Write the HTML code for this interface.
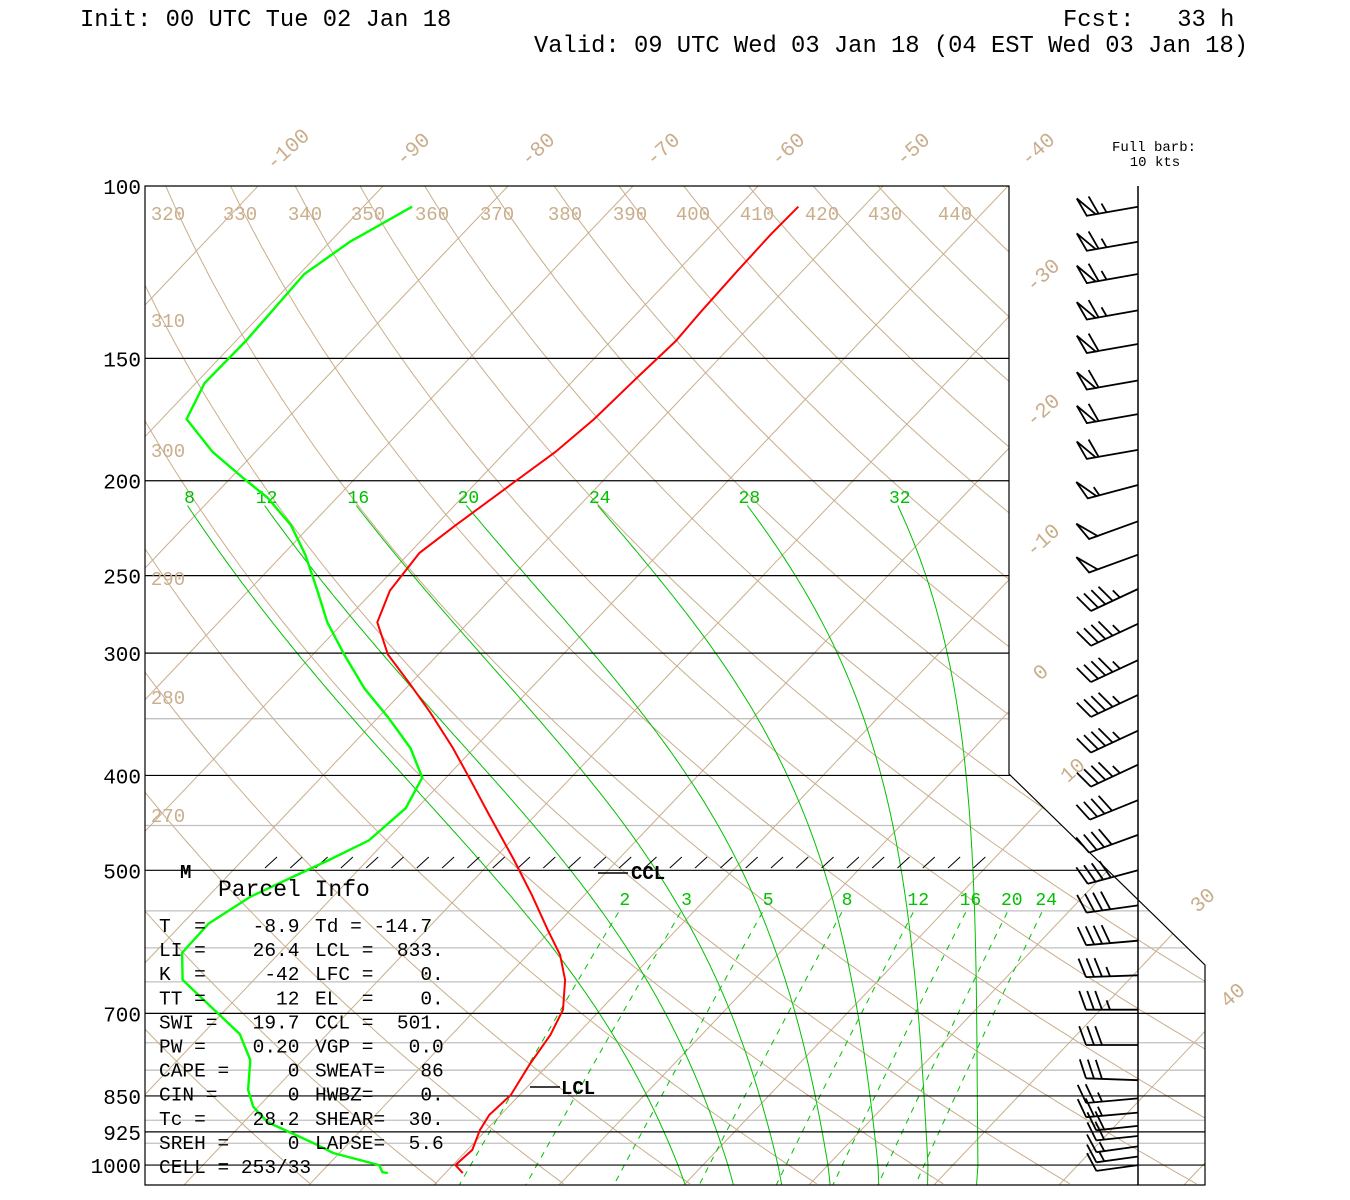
<!DOCTYPE html>
<html><head><meta charset="utf-8"><title>Skew-T</title>
<style>html,body{margin:0;padding:0;background:#fff;}svg{display:block;}
text{font-family:"Liberation Mono",monospace;}</style></head>
<body>
<svg id="chart" width="1350" height="1200" viewBox="0 0 1350 1200" xmlns="http://www.w3.org/2000/svg">
<rect width="1350" height="1200" fill="#fff"/>
<defs><clipPath id="clip"><polygon points="145,186 1009,186 1009,774 1205,965 1205,1185 145,1185"/></clipPath></defs>
<text x="80" y="26" font-size="23.8">Init: 00 UTC Tue 02 Jan 18</text>
<text x="1063" y="26" font-size="23.8" xml:space="preserve">Fcst:   33 h</text>
<text x="534" y="52" font-size="23.8">Valid: 09 UTC Wed 03 Jan 18 (04 EST Wed 03 Jan 18)</text>
<text x="1154" y="151" font-size="14" text-anchor="middle" font-family="Liberation Serif">Full barb:</text>
<text x="1155" y="166" font-size="14" text-anchor="middle" font-family="Liberation Serif">10 kts</text>
<g id="bg" clip-path="url(#clip)"></g>
<g id="frame"></g>
<g id="labels"></g>
<g id="profiles"></g>
<g id="winds"></g>
<g id="info"></g>
</svg>
<script>
const tempP=[105,112,122,135,144,156,173,187,202,222,237,259,279,301,322,345,375,404,439,488,530,575,610,647,694,736,790,848,889,921,965,1000,1019];
const tempT=[-55.2,-55.3,-55.2,-55.0,-54.8,-55.1,-55.4,-56.0,-57.1,-58.4,-59.2,-58.7,-57.3,-54.0,-50.1,-46.2,-41.7,-37.9,-33.7,-28.3,-24.2,-20.3,-17.4,-15.1,-13.0,-12.1,-11.5,-10.7,-10.9,-10.5,-9.6,-9.8,-8.6];
const dewP=[105,114,123,144,159,173,187,199,208,222,238,259,279,301,326,349,375,402,432,466,488,532,567,607,647,735,781,838,872,904,950,972,1000,1017,1019];
const dewT=[-86.1,-88.4,-89.6,-89.2,-89.3,-88.0,-83.4,-78.9,-75.6,-71.6,-68.2,-64.5,-61.3,-57.5,-53.3,-49.2,-45.1,-41.9,-40.9,-41.4,-43.1,-46.6,-47.9,-47.8,-45.7,-37.0,-34.2,-32.1,-30.4,-28.1,-22.8,-20.5,-15.9,-15.1,-14.6];
const windP=[105,114,123,134,145,158,171,186,202,220,238,258,280,305,331,360,390,424,460,500,543,590,640,694,754,819,855,884,912,934,957,980,1000];
const windSpd=[65,65,65,65,60,60,60,60,55,50,50,45,45,45,45,45,45,40,40,40,40,40,35,35,30,30,25,25,20,20,15,15,10];
const windDir=[260,260,260,260,260,260,260,260,255,250,250,245,245,245,245,245,245,248,250,255,262,265,268,270,270,272,265,265,264,264,262,262,262];
const blackLevels=[150,200,250,300,400,500,700,850,925,1000];
const grayLevels=[350,450,550,600,650,750,800,900,950];
const pressLabels=[100,150,200,250,300,400,500,700,850,925,1000];
const isotherms=[-150,-140,-130,-120,-110,-100,-90,-80,-70,-60,-50,-40,-30,-20,-10,0,10,20,30,40,50];
const thetas=[250,260,270,280,290,300,310,320,330,340,350,360,370,380,390,400,410,420,430,440,450,460];
const thetaW=[8,12,16,20,24,28,32];
const mixRatios=[2,3,5,8,12,16,20,24];
const topIsoLabels=[-100,-90,-80,-70,-60,-50,-40];

const NS="http://www.w3.org/2000/svg";
const TAN="#c9ae8c";
function yP(p){return 186+425.2*Math.log(p/100);}
function xT(T,p){return 578+12.5*T+0.95*(1165-yP(p));}
function mk(tag,parent,attrs){const e=document.createElementNS(NS,tag);for(const k in attrs)e.setAttribute(k,attrs[k]);parent.appendChild(e);return e;}
function pathFrom(pts){return pts.map((q,i)=>(i?'L':'M')+q[0].toFixed(1)+','+q[1].toFixed(1)).join('');}
const bg=document.getElementById('bg'),frame=document.getElementById('frame'),labels=document.getElementById('labels'),prof=document.getElementById('profiles'),winds=document.getElementById('winds'),info=document.getElementById('info');

grayLevels.forEach(p=>{const l=mk('line',bg,{x1:145,x2:1210,y1:yP(p),y2:yP(p),stroke:'#c0c0c0','stroke-width':1.3});

});
isotherms.forEach(T=>{const l=mk('line',bg,{x1:xT(T,1050),y1:yP(1050),x2:xT(T,95),y2:yP(95),stroke:TAN,'stroke-width':1});

});
thetas.forEach(th=>{const pts=[];for(let p=95;p<=1050;p+=10){pts.push([xT(th*Math.pow(p/1000,0.2857)-273.15,p),yP(p)]);}
const e=mk('path',bg,{d:pathFrom(pts),fill:'none',stroke:TAN,'stroke-width':1});

});
function dTdp(T,p){const Tc=T-273.15;const es=6.112*Math.exp(17.67*Tc/(Tc+243.5));const rs=0.622*es/(p-es);
return (287*T+2.5e6*rs)/(p*(1004+2.5e6*2.5e6*rs*0.622/(287*T*T)));}
function moist(thw){const up=[];let T=thw+273.15;for(let p=1000;p>=212;p-=2){up.push([p,T-0.07*thw*(1000-p)/790]);T-=dTdp(T,p)*2;}
const dn=[];T=thw+273.15;for(let p=1000;p<=1050;p+=2){dn.push([p,T]);T+=dTdp(T,p)*2;}
return dn.reverse().concat(up.slice(1));}
thetaW.forEach(w=>{const m=moist(w);const pts=m.map(a=>[xT(a[1]-273.15,a[0]),yP(a[0])]);
const e=mk('path',bg,{d:pathFrom(pts),fill:'none',stroke:'#00c000','stroke-width':1});


const top=m[m.length-1];
const t=mk('text',labels,{x:xT(top[1]-273.15,top[0])+2,y:503,'font-size':18,fill:'#00c000','text-anchor':'middle'});t.textContent=w;

});
function tdOf(w,p){const e=w*p/(622+w);const l=Math.log(e/6.112);return 243.5*l/(17.67-l);}
mixRatios.forEach(w=>{const pts=[];for(let p=552;p<=1050;p+=6)pts.push([xT(tdOf(w,p),p),yP(p)]);
const e=mk('path',bg,{d:pathFrom(pts),fill:'none',stroke:'#00c000','stroke-width':1,'stroke-dasharray':'6,6'});


const t=mk('text',labels,{x:xT(tdOf(w,530),530)-4,y:905,'font-size':18,fill:'#00c000','text-anchor':'middle'});t.textContent=w;

});
blackLevels.forEach(p=>{const l=mk('line',bg,{x1:145,x2:1210,y1:yP(p),y2:yP(p),stroke:'#000','stroke-width':1.2});

});
const fr=mk('polygon',frame,{points:'145,186 1009,186 1009,774 1205,965 1205,1185 145,1185',fill:'none',stroke:'#000','stroke-width':1.2});


const st=mk('line',frame,{x1:1138,x2:1138,y1:186,y2:1185,stroke:'#000','stroke-width':1.5});


for(let x=265;x<995;x+=25.3){const h=mk('line',frame,{x1:x,y1:868,x2:x+12,y2:857,stroke:'#000','stroke-width':1});

}
pressLabels.forEach(p=>{const t=mk('text',labels,{x:141,y:yP(p)+8,'font-size':21,'text-anchor':'end'});t.textContent=p;

});
topIsoLabels.forEach(T=>{const x=xT(T,100)+34,y=154;const t=mk('text',labels,{x:x,y:y,'font-size':21,fill:TAN,'text-anchor':'middle',transform:'rotate(-42 '+x+' '+y+')'});t.textContent=T;

});
const rightIso=[[-30,1047,280],[-20,1047,415],[-10,1047,545],[0,1045,677],[10,1077,775],[30,1207,905],[40,1237,1000]];
rightIso.forEach(a=>{const t=mk('text',labels,{x:a[1],y:a[2],'font-size':21,fill:TAN,'text-anchor':'middle',transform:'rotate(-42 '+a[1]+' '+a[2]+')'});t.textContent=a[0];

});
const thetaTop=[[320,168],[330,240],[340,305],[350,368],[360,432],[370,497],[380,565],[390,630],[400,693],[410,757],[420,822],[430,885],[440,955]];
thetaTop.forEach(a=>{const t=mk('text',labels,{x:a[1],y:220,'font-size':19,fill:TAN,'text-anchor':'middle'});t.textContent=a[0];

});
const thetaLeft=[[310,327],[300,457],[290,585],[280,704],[270,822]];
thetaLeft.forEach(a=>{const t=mk('text',labels,{x:168,y:a[1],'font-size':19,fill:TAN,'text-anchor':'middle'});t.textContent=a[0];

});
const tp=mk('path',prof,{d:pathFrom(tempP.map((p,i)=>[xT(tempT[i],p),yP(p)])),fill:'none',stroke:'#ff0000','stroke-width':2});


const dp=mk('path',prof,{d:pathFrom(dewP.map((p,i)=>[xT(dewT[i],p),yP(p)])),fill:'none',stroke:'#00ff00','stroke-width':2.4});


const m1=mk('line',prof,{x1:598,x2:628,y1:873,y2:873,stroke:'#000','stroke-width':1.5});


const t1=mk('text',prof,{x:631,y:879,'font-size':19,'font-family':'Liberation Serif','font-weight':'bold'});t1.textContent='CCL';


const m2=mk('line',prof,{x1:530,x2:560,y1:1087,y2:1087,stroke:'#000','stroke-width':1.5});


const t2=mk('text',prof,{x:561,y:1094,'font-size':19,'font-family':'Liberation Serif','font-weight':'bold'});t2.textContent='LCL';


const t3=mk('text',prof,{x:180,y:878,'font-size':19,'font-family':'Liberation Serif','font-weight':'bold'});t3.textContent='M';


windP.forEach((p,i)=>{const y=yP(p);const d=windDir[i]*Math.PI/180;const ux=Math.sin(d),uy=-Math.cos(d);
const L=p>900?42:52;const ex=1138+ux*L,ey=y+uy*L;const a=70*Math.PI/180;
const vx=ux*Math.cos(a)-uy*Math.sin(a),vy=ux*Math.sin(a)+uy*Math.cos(a);
let s='M1138,'+y.toFixed(1)+'L'+ex.toFixed(1)+','+ey.toFixed(1);
let spd=windSpd[i];let off=0;const f=20;
while(spd>=50){const bx=ex-ux*off,by=ey-uy*off;const cx=bx-ux*9,cy=by-uy*9;
s+='M'+bx.toFixed(1)+','+by.toFixed(1)+'L'+(bx+vx*f).toFixed(1)+','+(by+vy*f).toFixed(1)+'L'+cx.toFixed(1)+','+cy.toFixed(1)+'Z';off+=12;spd-=50;}
while(spd>=10){const bx=ex-ux*off,by=ey-uy*off;s+='M'+bx.toFixed(1)+','+by.toFixed(1)+'l'+(vx*f).toFixed(1)+','+(vy*f).toFixed(1);off+=8;spd-=10;}
if(spd>=5){if(off===0)off=8;const bx=ex-ux*off,by=ey-uy*off;s+='M'+bx.toFixed(1)+','+by.toFixed(1)+'l'+(vx*f/2).toFixed(1)+','+(vy*f/2).toFixed(1);}
const b=mk('path',winds,{d:s,fill:'none',stroke:'#000','stroke-width':1.8});

});
const pt=mk('text',info,{x:218,y:896,'font-size':23});pt.textContent='Parcel Info';


const leftCol=['T  =    -8.9','LI =    26.4','K  =     -42','TT =      12','SWI =   19.7','PW =    0.20','CAPE =     0','CIN =      0','Tc =    28.2','SREH =     0','CELL = 253/33'];
const rightCol=['Td = -14.7','LCL =  833.','LFC =    0.','EL  =    0.','CCL =  501.','VGP =   0.0','SWEAT=   86','HWBZ=    0.','SHEAR=  30.','LAPSE=  5.6',''];
leftCol.forEach((s,i)=>{const y=932+i*24.1;const a=mk('text',info,{x:159,y:y,'font-size':19.5});a.setAttribute('style','white-space:pre');a.textContent=s;


if(rightCol[i]){const b=mk('text',info,{x:315,y:y,'font-size':19.5});b.setAttribute('style','white-space:pre');b.textContent=rightCol[i];

}});
</script>
</body></html>
